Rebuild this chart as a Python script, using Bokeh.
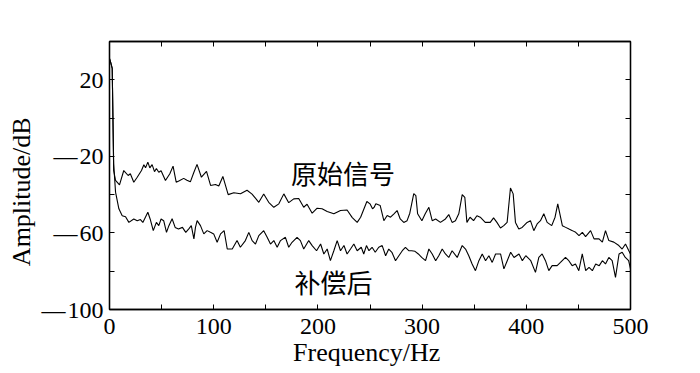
from bokeh.plotting import figure
from bokeh.models import LinearAxis, FixedTicker, Label, Range1d
from bokeh.embed import file_html
from bokeh.resources import INLINE

# ---- data ----
freq_orig = [0, 1.2, 2.6, 4.0, 5.8, 9.6, 13.7, 17.9, 20.0, 23.3, 26.6, 30.7, 33.0, 34.6, 36.8,
             38.7, 40.9, 43.2, 45.0, 47.3, 49.5, 53.7, 57.9, 61.0, 64.0, 67.0, 71.2, 74.3, 77.6,
             81.0, 84.0, 88.2, 93.1, 97.0, 101.7, 104.9, 108.8, 113.9, 119.3, 125.7, 132.0,
             136.8, 143.3, 148.0, 152.8, 157.7, 162.5, 167.3, 172.0, 176.8, 181.6, 186.4, 189.6,
             194.5, 199.3, 204.0, 208.9, 215.3, 221.7, 228.0, 233.0, 237.7, 241.0, 247.0, 250.0,
             252.4, 254.0, 255.6, 259.8, 263.3, 266.5, 269.7, 273.0, 276.0, 279.0, 282.4, 285.6,
             288.2, 292.0, 294.0, 295.7, 299.8, 303.0, 306.5, 309.7, 313.0, 317.6, 322.4, 325.6,
             328.8, 332.0, 335.2, 338.5, 341.0, 343.0, 346.0, 349.4, 352.6, 355.8, 360.6, 365.4,
             368.6, 371.8, 375.2, 378.4, 381.6, 384.8, 387.4, 389.6, 392.8, 396.0, 400.8, 404.0,
             407.2, 410.4, 413.6, 416.8, 420.0, 424.4, 427.6, 430.2, 434.6, 437.8, 441.0, 444.2,
             447.4, 450.6, 453.8, 456.9, 461.7, 465.0, 469.8, 473.0, 476.0, 479.2, 484.0, 488.8,
             492.0, 495.2, 498.4, 500.0]
amp_orig = [31, 29, 26, -27.4, -32.6, -34.9, -27.4, -30.0, -29.1, -33.5, -30.9, -27.4, -24.4, -26.0, -23.0,
            -26.0, -24.3, -28.0, -26.3, -28.3, -27.5, -32.6, -29.1, -25.1, -33.5, -32.7, -31.5, -32.5, -33.3,
            -28.3, -24.2, -30.9, -27.8, -35.2, -34.7, -35.5, -30.5, -40.0, -39.0, -39.5, -37.7,
            -39.7, -44.0, -39.7, -44.0, -46.6, -44.8, -39.6, -44.2, -42.2, -42.0, -46.6, -45.0,
            -49.7, -47.1, -47.4, -48.8, -50.0, -48.3, -48.0, -52.0, -54.5, -51.8, -43.6, -44.8,
            -47.4, -46.6, -44.8, -45.7, -53.6, -50.9, -51.8, -50.0, -48.3, -52.7, -54.5, -53.6,
            -49.7, -39.5, -40.5, -50.0, -53.6, -50.0, -46.6, -53.6, -52.7, -54.5, -52.7, -50.4,
            -54.5, -53.6, -50.0, -40.0, -41.4, -54.5, -51.8, -53.6, -51.0, -51.8, -54.5, -54.5,
            -52.1, -54.5, -57.4, -56.2, -54.5, -36.5, -39.6, -54.5, -57.9, -57.1, -54.5, -53.6,
            -58.8, -55.3, -53.6, -50.0, -54.5, -56.2, -51.8, -44.8, -56.2, -57.1, -58.0, -58.8,
            -59.7, -61.4, -59.7, -61.9, -58.8, -63.1, -63.1, -64.8, -58.8, -64.0, -64.8, -66.6,
            -68.4, -65.8, -69.3, -71.0]

freq_comp = [0, 1.2, 2.6, 4.0, 5.8, 9.0, 12.2, 15.4, 18.6, 23.3, 26.6, 29.7, 32.0, 34.0, 36.8,
             39.0, 42.0, 45.0, 47.3, 49.5, 52.0, 54.7, 57.0, 60.1, 63.0, 66.2, 70.0, 73.2, 76.5,
             78.5, 81.0, 82.5, 84.1, 87.3, 90.5, 93.7, 96.9, 100.0, 103.3, 106.6, 110.0, 113.0,
             117.8, 122.4, 125.6, 130.4, 133.7, 136.9, 140.1, 143.3, 148.0, 151.3, 154.5, 157.7,
             160.9, 164.1, 168.8, 172.0, 175.2, 180.0, 183.2, 186.4, 191.2, 194.5, 198.7, 202.6,
             205.7, 208.9, 212.0, 215.3, 218.5, 221.7, 225.0, 228.0, 231.3, 234.5, 237.7, 241.6,
             244.0, 246.6, 249.0, 252.0, 255.0, 258.4, 261.7, 265.0, 268.0, 271.0, 274.5, 277.7,
             281.0, 284.0, 287.2, 290.0, 293.2, 296.4, 299.6, 303.3, 306.5, 309.7, 313.0, 316.0,
             319.3, 322.4, 325.6, 328.8, 333.7, 338.5, 341.7, 344.8, 348.0, 351.2, 354.5, 357.7,
             360.9, 364.1, 367.3, 370.5, 375.3, 378.5, 381.7, 385.0, 388.2, 393.0, 396.2, 399.5,
             404.3, 408.8, 412.0, 415.2, 418.4, 421.6, 424.8, 429.6, 432.8, 437.6, 440.8, 444.0,
             447.2, 450.4, 453.7, 457.0, 460.2, 463.4, 466.6, 470.0, 473.0, 476.0, 479.2, 482.4,
             485.6, 489.0, 492.0, 495.0, 498.2, 500.0]
amp_comp = [31, 29, 26, -24.0, -38.7, -47.4, -51.0, -51.5, -54.5, -52.7, -53.6, -53.0, -54.5, -52.3, -49.2,
            -52.7, -58.8, -54.5, -56.2, -52.7, -53.6, -59.7, -56.2, -52.6, -57.1, -57.9, -57.1, -59.7, -57.6,
            -56.2, -63.1, -57.1, -53.6, -56.2, -60.5, -58.8, -59.7, -60.5, -64.9, -60.5, -58.8, -68.4,
            -68.4, -64.0, -67.5, -64.0, -59.7, -64.0, -65.8, -61.4, -58.8, -62.3, -65.8, -64.0,
            -67.5, -64.0, -62.3, -67.5, -64.9, -62.3, -64.0, -68.4, -64.0, -66.6, -69.3, -65.8,
            -71.0, -68.4, -74.5, -69.3, -64.0, -69.3, -66.6, -71.0, -68.4, -65.8, -69.3, -67.5,
            -71.0, -66.6, -69.3, -67.5, -70.1, -67.5, -66.6, -71.9, -68.4, -70.1, -74.5, -71.9,
            -69.3, -67.5, -69.3, -69.3, -69.6, -71.0, -72.8, -74.5, -68.4, -71.0, -74.5, -71.9,
            -68.4, -71.0, -72.8, -69.3, -72.8, -66.6, -68.4, -71.9, -76.2, -79.7, -74.5, -71.0,
            -74.5, -71.9, -75.4, -71.0, -71.0, -78.8, -74.5, -70.1, -72.8, -71.0, -74.5, -71.9,
            -74.5, -80.6, -72.8, -71.0, -74.5, -79.7, -77.1, -77.1, -75.4, -72.8, -74.5, -77.1,
            -76.2, -79.7, -71.0, -79.7, -78.0, -79.7, -76.2, -77.1, -74.5, -76.2, -72.8, -74.5,
            -83.2, -71.0, -70.1, -72.8, -74.5, -78.8]

x_ticks = [0, 50, 100, 150, 200, 250, 300, 350, 400, 450, 500]
x_tick_labels = ["0", "", "100", "", "200", "", "300", "", "400", "", "500"]
y_ticks = [-100, -80, -60, -40, -20, 0, 20, 40]
y_tick_labels = ["\u2014\u200a100", "", "\u2014\u200a60", "", "\u2014\u200a20", "", "20", ""]

curve_names = ["原始信号", "补偿后"]
curve_name_x = [224, 215]
curve_name_y = [-28.4, -85.2]

SERIF = "Liberation Serif"
CJK = "Noto Sans CJK SC"

p = figure(width=700, height=373, output_backend="svg", toolbar_location=None,
           x_range=Range1d(0, 500), y_range=Range1d(-100, 40),
           min_border_left=109, min_border_right=70, min_border_top=41, min_border_bottom=64)
p.background_fill_color = "white"
p.border_fill_color = "white"
p.xgrid.visible = False
p.ygrid.visible = False
p.outline_line_color = "black"
p.outline_line_width = 1.3

p.line(freq_orig, amp_orig, line_color="black", line_width=1.1)
p.line(freq_comp, amp_comp, line_color="black", line_width=1.1)

def style_axis(ax, ticks, labels, show_labels=True):
    ax.ticker = FixedTicker(ticks=ticks)
    ax.major_label_overrides = {t: l for t, l in zip(ticks, labels)}
    ax.major_tick_in = 5
    ax.major_tick_out = 0
    ax.minor_tick_in = 0
    ax.minor_tick_out = 0
    ax.axis_line_color = "black"
    ax.axis_line_width = 1.3
    ax.major_tick_line_color = "black"
    ax.major_label_text_font = SERIF
    ax.major_label_text_color = "black"
    ax.major_label_text_font_size = "24px" if show_labels else "0px"
    ax.axis_label_text_font = SERIF
    ax.axis_label_text_font_style = "normal"
    ax.axis_label_text_color = "black"
    ax.axis_label_text_font_size = "26px"

xa = p.xaxis[0]
style_axis(xa, x_ticks, x_tick_labels)
xa.axis_label = "Frequency/Hz\u00a0"
xa.major_label_standoff = 9
xa.axis_label_standoff = 1

ya = p.yaxis[0]
style_axis(ya, y_ticks, y_tick_labels)
ya.axis_label = "Amplitude/dB\u00a0\u00a0\u00a0\u00a0\u00a0"
ya.major_label_standoff = 6
ya.axis_label_standoff = 2

top = LinearAxis()
style_axis(top, x_ticks, [""] * len(x_ticks), show_labels=False)
top.major_label_standoff = 0
p.add_layout(top, "above")

right = LinearAxis()
style_axis(right, y_ticks, [""] * len(y_ticks), show_labels=False)
right.major_label_standoff = 0
p.add_layout(right, "right")

for name, lx, ly in zip(curve_names, curve_name_x, curve_name_y):
    p.add_layout(Label(x=lx, y=ly, text=name, text_font=CJK, text_font_size="26px",
                       text_color="black", text_align="center", text_baseline="middle"))

open("out.html", "w").write(file_html(p, INLINE))
